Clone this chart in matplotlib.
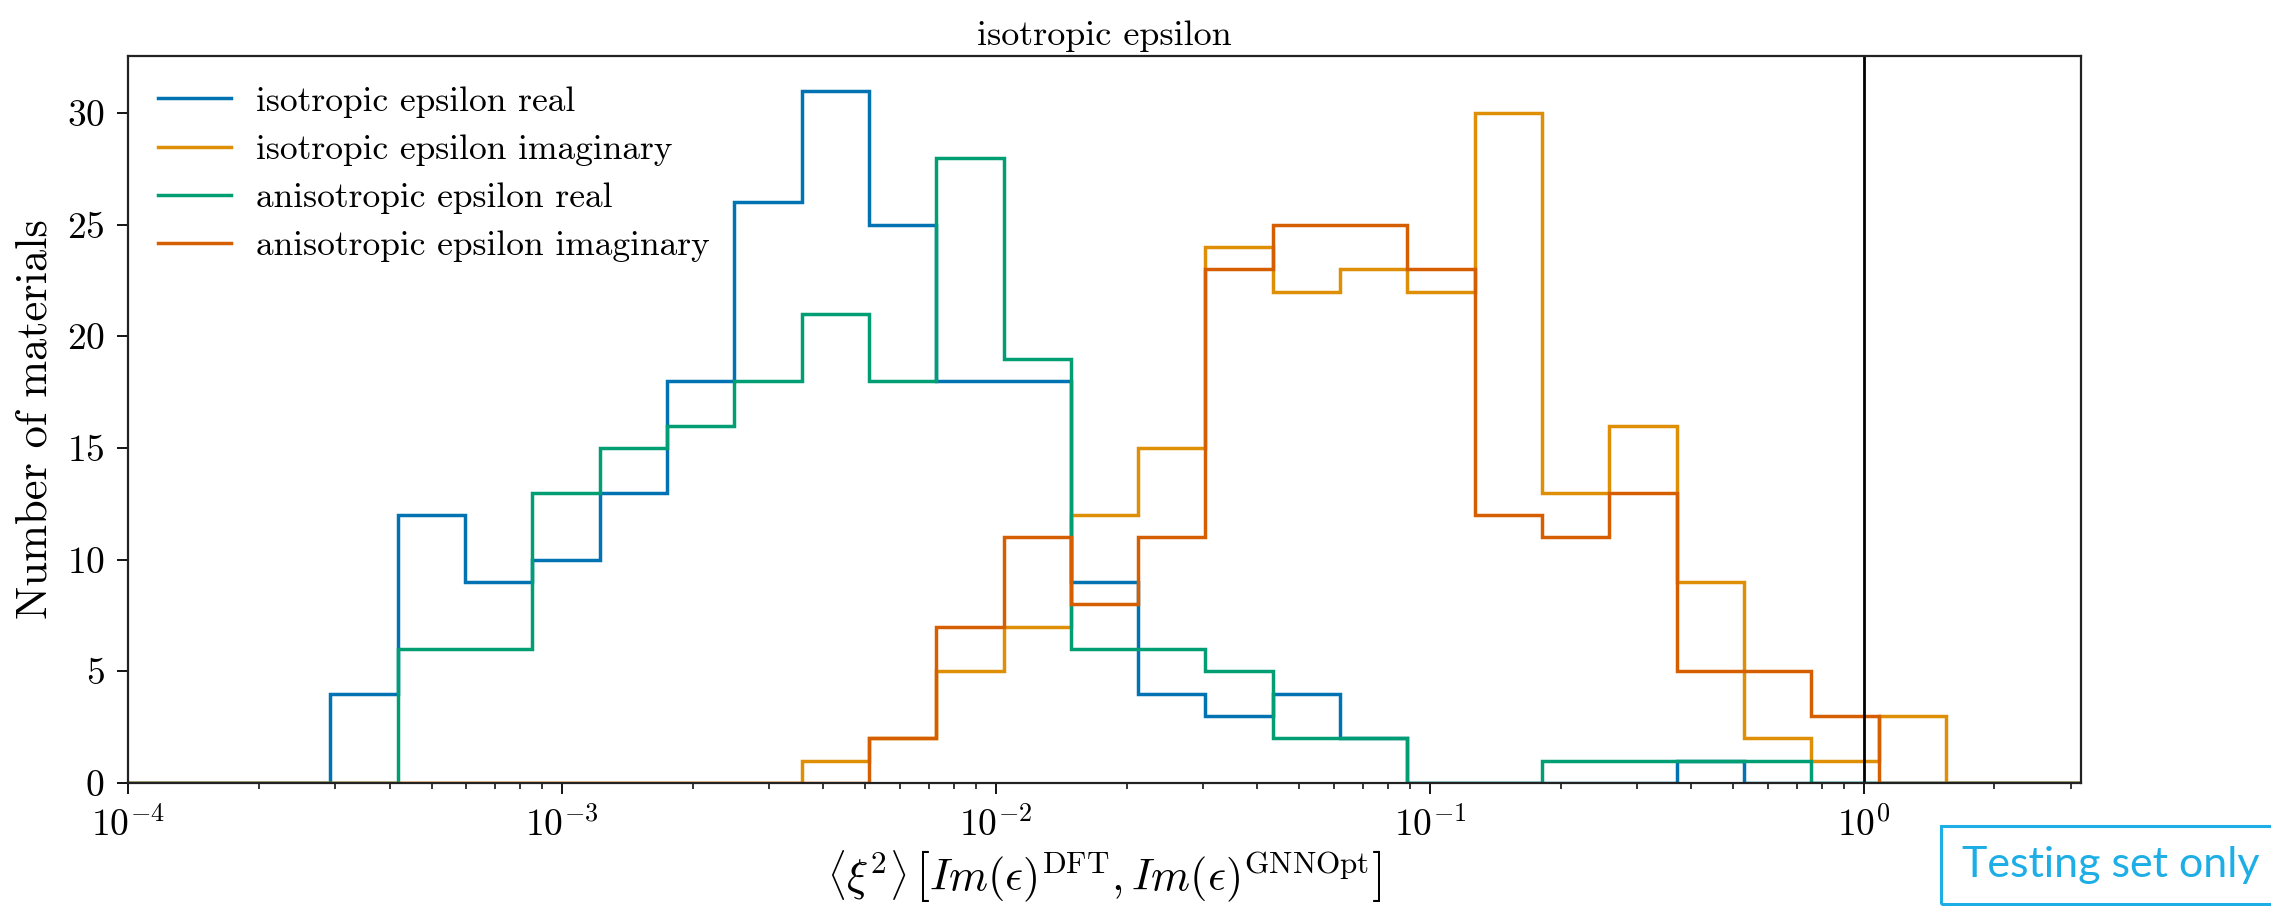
import numpy as np
import matplotlib
matplotlib.use("Agg")
import matplotlib.pyplot as plt
from matplotlib.patches import Rectangle

plt.rcParams['font.family'] = 'serif'
plt.rcParams['font.serif'] = ['cmr10']
plt.rcParams['mathtext.fontset'] = 'cm'
plt.rcParams['axes.formatter.use_mathtext'] = True

# log-spaced bins shared by all four histograms
bin_edges = np.logspace(-4, 0.5, 30)

labels = ["isotropic epsilon real", "isotropic epsilon imaginary",
          "anisotropic epsilon real", "anisotropic epsilon imaginary"]

iso_real = [0, 0, 0, 4, 12, 9, 10, 13, 18, 26, 31, 25, 18, 18, 9,
            4, 3, 4, 2, 0, 0, 0, 0, 1, 0, 0, 0, 0, 0]
iso_imag = [0, 0, 0, 0, 0, 0, 0, 0, 0, 0, 1, 2, 5, 7, 12,
            15, 24, 22, 23, 22, 30, 13, 16, 9, 2, 1, 3, 0, 0]
aniso_real = [0, 0, 0, 0, 6, 6, 13, 15, 16, 18, 21, 18, 28, 19, 6,
              6, 5, 2, 2, 0, 0, 1, 1, 1, 1, 0, 0, 0, 0]
aniso_imag = [0, 0, 0, 0, 0, 0, 0, 0, 0, 0, 0, 2, 7, 11, 8,
              11, 23, 25, 25, 23, 12, 11, 13, 5, 5, 3, 0, 0, 0]

colors = ['#0173B2', '#DE8F05', '#029E73', '#D55E00']

fig = plt.figure(figsize=(22.71, 9.06), dpi=100)
ax = fig.add_axes([0.0565, 0.1358, 0.8597, 0.8024])

for counts, c, lab in zip([iso_real, iso_imag, aniso_real, aniso_imag], colors, labels):
    ax.stairs(counts, bin_edges, color=c, lw=2.5, label=lab)

ax.axvline(1, color='black', lw=2.0)

ax.set_xscale('log')
ax.set_xlim(1e-4, 10**0.5)
ax.set_ylim(0, 32.55)
ax.set_yticks([0, 5, 10, 15, 20, 25, 30])

ax.set_title("isotropic epsilon", fontsize=26, pad=8)
ax.set_ylabel("Number of materials", fontsize=32, labelpad=8)
ax.set_xlabel(r"$\left\langle \xi^2 \right\rangle\,\left[Im(\epsilon)^{\rm DFT}, Im(\epsilon)^{\rm GNNOpt}\right]$",
              fontsize=32, labelpad=4)

ax.tick_params(which='major', labelsize=27, length=8, width=1.3, direction='out', pad=9)
ax.tick_params(which='minor', length=4, width=1.1, direction='out')
for s in ax.spines.values():
    s.set_linewidth(1.6)
    s.set_color('#222222')

ax.legend(loc='upper left', frameon=False, fontsize=25.5, handlelength=2.05,
          handletextpad=0.7, labelspacing=0.46, borderaxespad=0.45)

# note box in the lower right corner
fig.patches.append(Rectangle((1941 / 2271, 2 / 906), 0.2, 78 / 906, transform=fig.transFigure,
                             fill=False, edgecolor='#1EAEE6', lw=2.2))
fig.text(1962 / 2271, 41 / 906, "Testing set only", fontsize=31, family='Lato',
         color='#1EAEE6', va='center', ha='left')

fig.savefig("out.png", dpi=100)
